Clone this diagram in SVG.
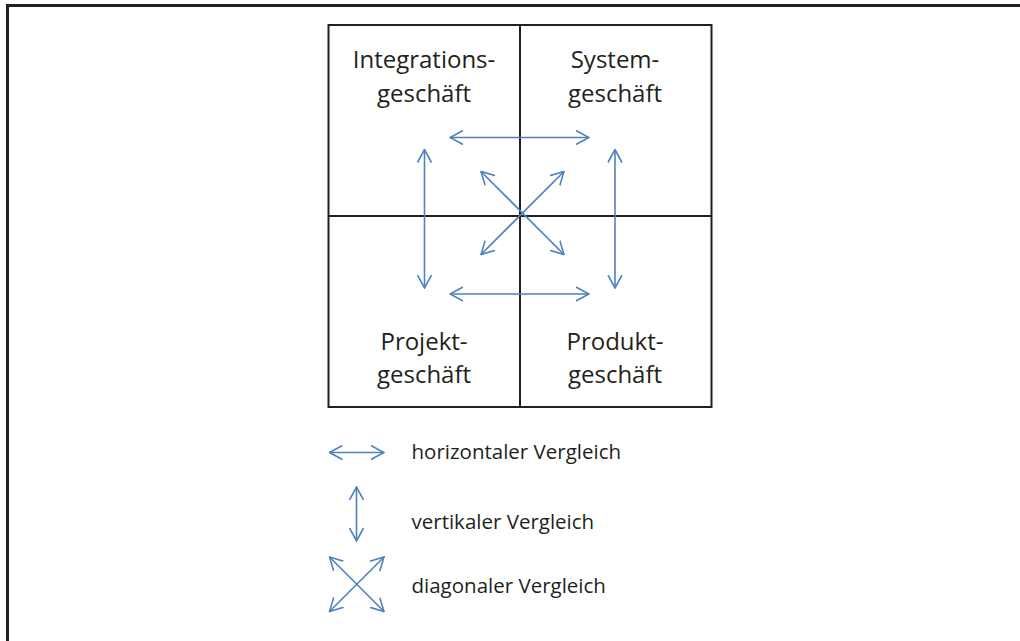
<svg xmlns="http://www.w3.org/2000/svg" width="1020" height="641" viewBox="0 0 1020 641">
  <style>
    .frame { fill: none; stroke: #231f20; stroke-width: 3; }
    .grid { fill: none; stroke: #231f20; stroke-width: 2; }
    .arr { fill: none; stroke: #4f81bd; stroke-width: 1.6; marker-start: url(#head); marker-end: url(#head); }
    .lbl { font-family: "Open Sans", "Noto Sans", sans-serif; font-size: 24px; fill: #231f20; text-anchor: middle; }
    .leg { font-family: "Open Sans", "Noto Sans", sans-serif; font-size: 20.5px; fill: #231f20; }
  </style>
  <defs>
    <marker id="head" viewBox="0 0 14 16" refX="13" refY="8" markerWidth="14" markerHeight="16" markerUnits="userSpaceOnUse" orient="auto-start-reverse">
      <path d="M0,1 L13,8 L0,15" fill="none" stroke="#4f81bd" stroke-width="1.6"/>
    </marker>
  </defs>
  <path class="frame" d="M7.5,641 V5.5 H1020"/>
  <g id="grid">
    <rect class="grid" x="328.5" y="25" width="383" height="382"/>
    <line class="grid" x1="520" y1="25" x2="520" y2="407"/>
    <line class="grid" x1="328.5" y1="216" x2="711.5" y2="216"/>
  </g>
  <g id="integrationsgeschaeft">
    <text class="lbl" x="424" y="68">Integrations-</text>
    <text class="lbl" x="424" y="102">geschäft</text>
  </g>
  <g id="systemgeschaeft">
    <text class="lbl" x="615" y="68">System-</text>
    <text class="lbl" x="615" y="102">geschäft</text>
  </g>
  <g id="projektgeschaeft">
    <text class="lbl" x="424" y="350">Projekt-</text>
    <text class="lbl" x="424" y="383">geschäft</text>
  </g>
  <g id="produktgeschaeft">
    <text class="lbl" x="615" y="350">Produkt-</text>
    <text class="lbl" x="615" y="383">geschäft</text>
  </g>
  <g id="connectors">
    <line class="arr" x1="450" y1="137.5" x2="589" y2="137.5"/>
    <line class="arr" x1="450" y1="294" x2="589" y2="294"/>
    <line class="arr" x1="424.5" y1="149.5" x2="424.5" y2="288"/>
    <line class="arr" x1="615" y1="149.5" x2="615" y2="288"/>
    <line class="arr" x1="481" y1="171.5" x2="564" y2="254.5"/>
    <line class="arr" x1="564" y1="171.5" x2="481" y2="254.5"/>
  </g>
  <g id="legend">
    <line class="arr" x1="329.5" y1="452.5" x2="384" y2="452.5"/>
    <line class="arr" x1="356.5" y1="487" x2="356.5" y2="541"/>
    <line class="arr" x1="329.5" y1="557" x2="384" y2="611.5"/>
    <line class="arr" x1="384" y1="557" x2="329.5" y2="611.5"/>
    <text class="leg" x="411.5" y="459">horizontaler Vergleich</text>
    <text class="leg" x="411.5" y="529">vertikaler Vergleich</text>
    <text class="leg" x="411.5" y="593">diagonaler Vergleich</text>
  </g>
</svg>
